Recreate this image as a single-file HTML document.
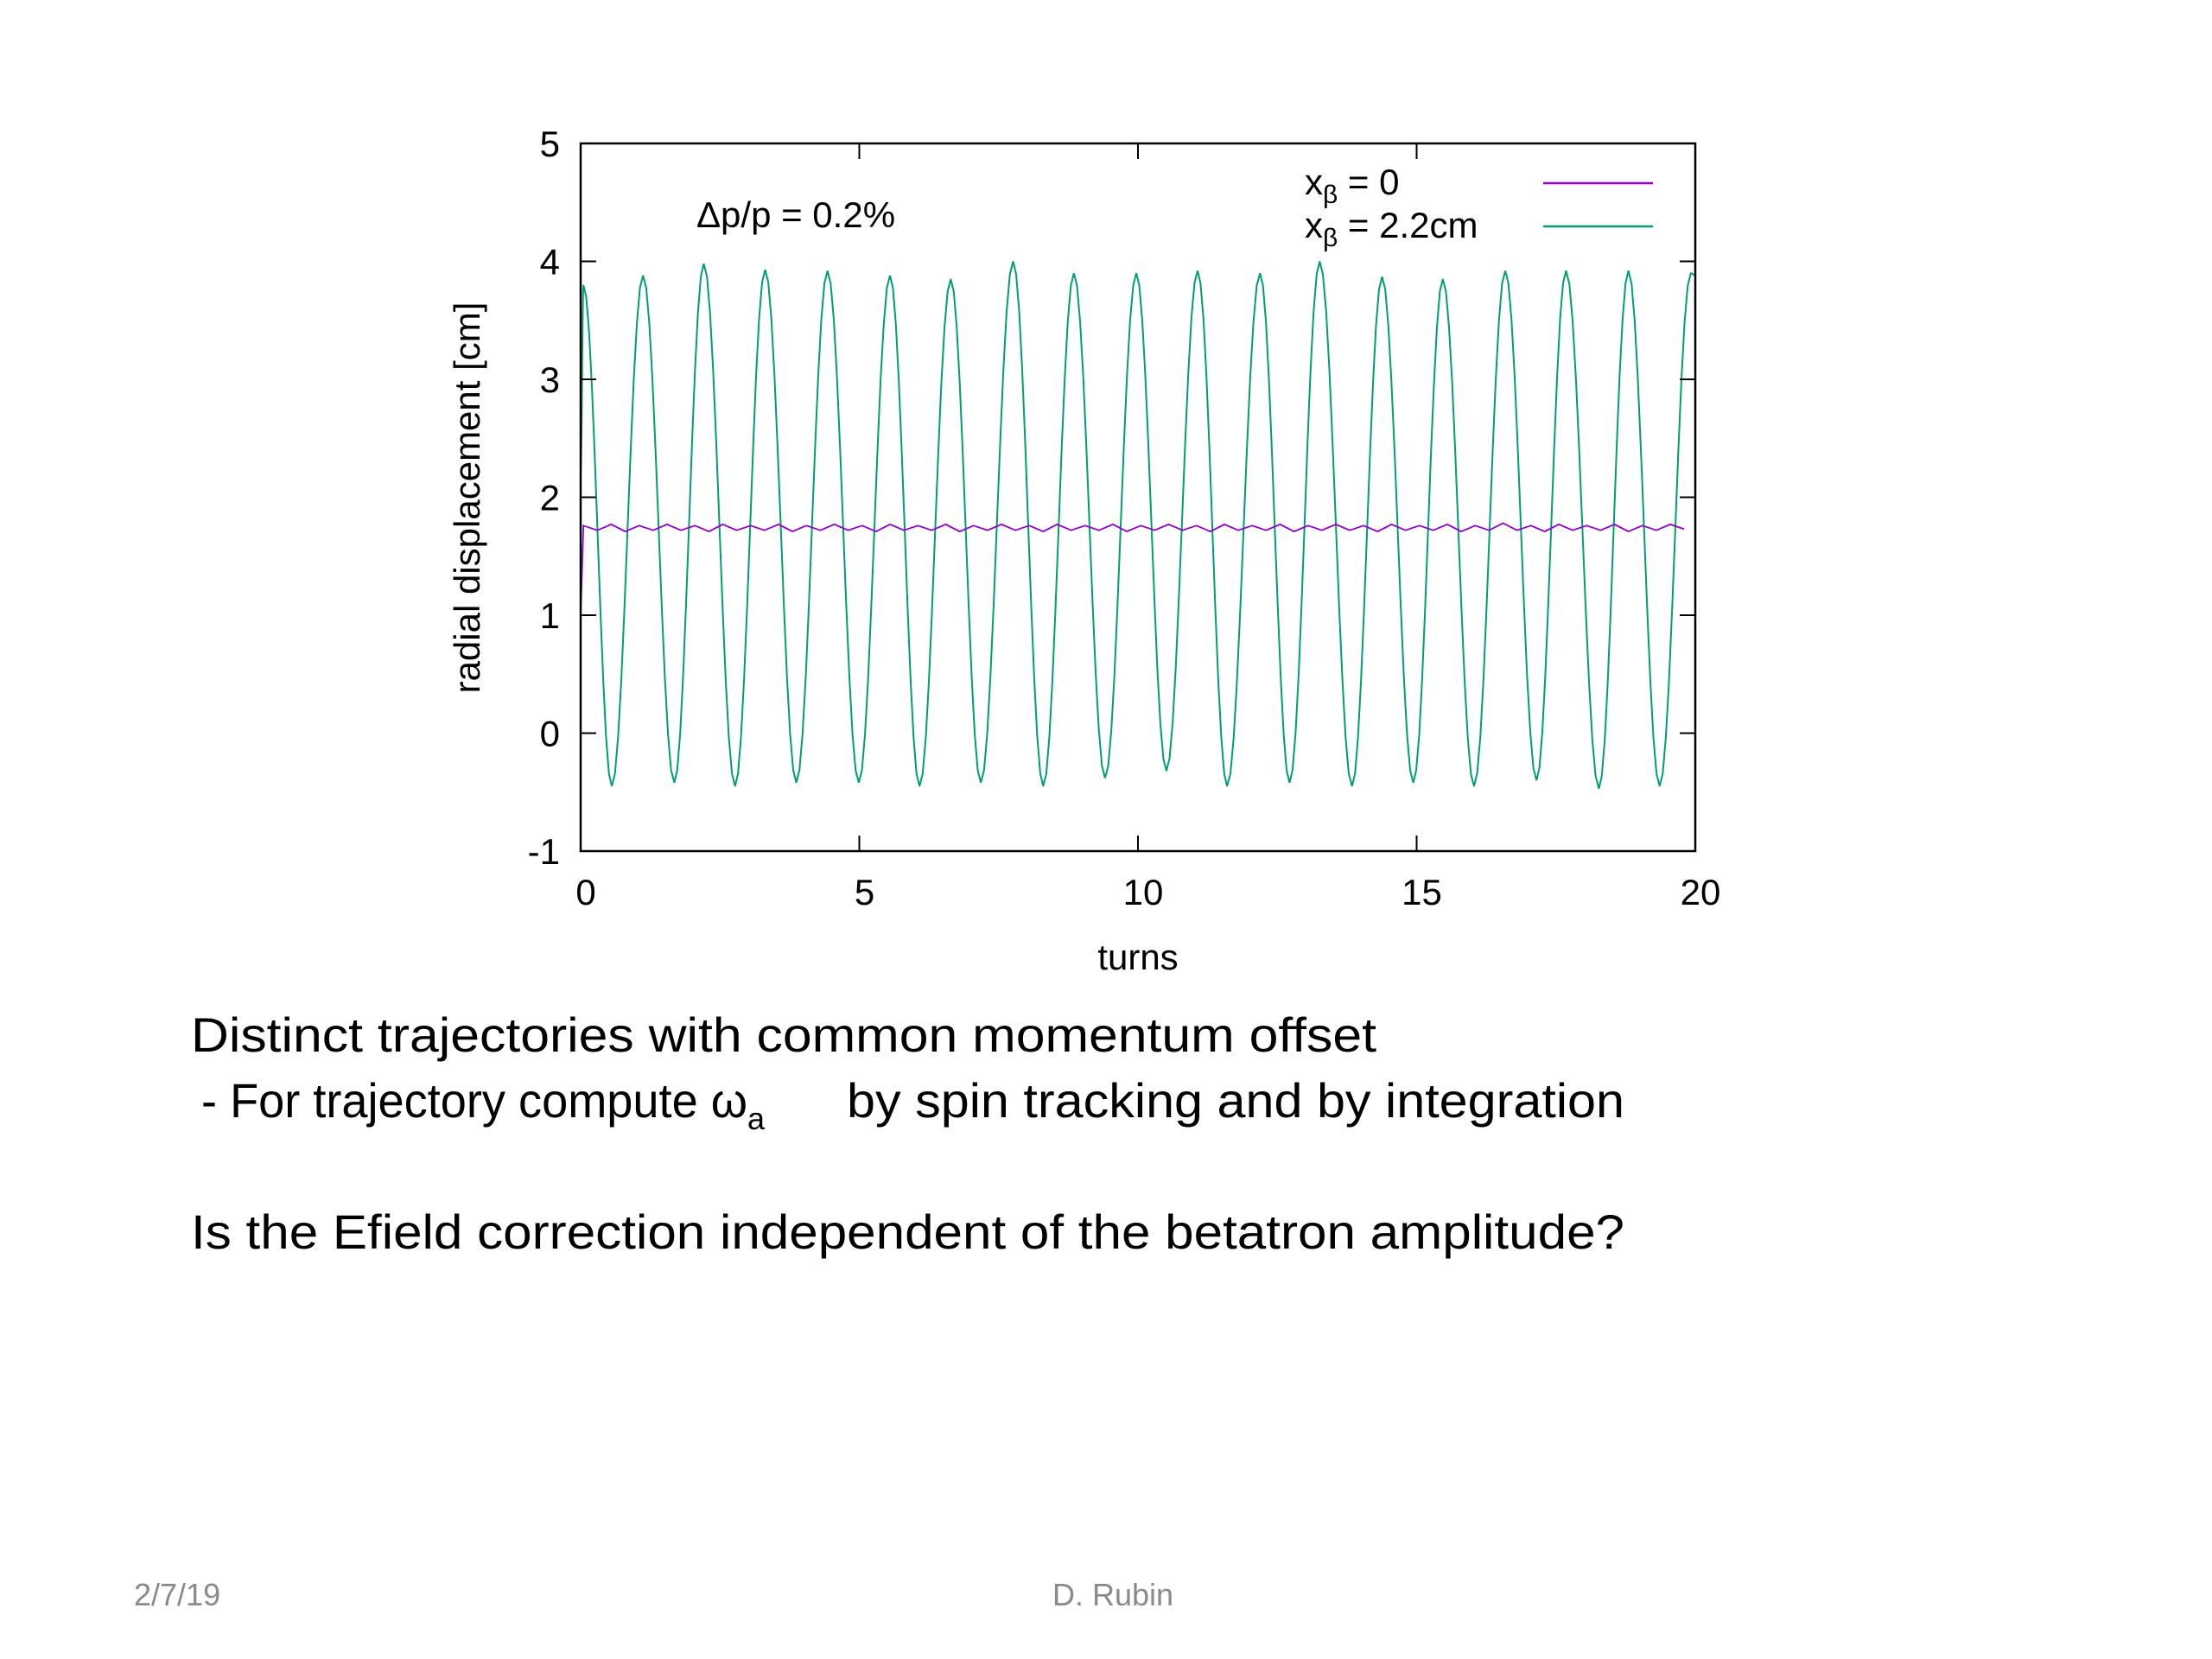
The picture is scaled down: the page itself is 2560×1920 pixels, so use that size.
<!DOCTYPE html>
<html><head><meta charset="utf-8"><style>
html,body{margin:0;padding:0;background:#fff;}
svg{display:block;font-family:"Liberation Sans",sans-serif;}
</style></head><body>
<svg id="chart" width="2560" height="1920" viewBox="0 0 2560 1920" xmlns="http://www.w3.org/2000/svg">
<rect width="2560" height="1920" fill="#fff"/>
<g id="plot"></g>
<text x="806" y="263" font-size="42" fill="#000">Δp/p = 0.2%</text>
<g>
<text x="1510" y="225" font-size="42">x<tspan font-size="30" dy="10">β</tspan><tspan dy="-10"> = 0</tspan></text>
<line x1="1786" y1="212" x2="1913" y2="212" stroke="#9400d3" stroke-width="2.5"/>
<text x="1510" y="275" font-size="42">x<tspan font-size="30" dy="10">β</tspan><tspan dy="-10"> = 2.2cm</tspan></text>
<line x1="1786" y1="262" x2="1913" y2="262" stroke="#009e73" stroke-width="2.5"/>
</g>
<text x="1317" y="1122" font-size="42" text-anchor="middle">turns</text>
<text transform="translate(555,576) rotate(-90)" font-size="42" text-anchor="middle">radial displacement [cm]</text>
<text x="221" y="1217" font-size="56" textLength="1372" lengthAdjust="spacingAndGlyphs">Distinct trajectories with common momentum offset</text>
<text x="233" y="1293" font-size="56"><tspan textLength="632" lengthAdjust="spacingAndGlyphs">- For trajectory compute ω</tspan><tspan font-size="36" dy="14">a</tspan><tspan dy="-14" x="980" textLength="900" lengthAdjust="spacingAndGlyphs">by spin tracking and by integration</tspan></text>
<text x="221" y="1445" font-size="56" textLength="1659" lengthAdjust="spacingAndGlyphs">Is the Efield correction independent of the betatron amplitude?</text>
<text x="155" y="1858" font-size="36" fill="#8a8a8a">2/7/19</text>
<text x="1288" y="1858" font-size="36" fill="#8a8a8a" text-anchor="middle">D. Rubin</text>
</svg>
<script>
const xTicks=[0,5,10,15,20];
const yTicks=[-1,0,1,2,3,4,5];
const greenX=[0,0.05,0.56,1.12,1.68,2.21,2.77,3.31,3.87,4.43,4.99,5.55,6.08,6.64,7.18,7.76,8.30,8.85,9.41,9.97,10.51,11.07,11.60,12.19,12.72,13.26,13.84,14.38,14.94,15.47,16.03,16.59,17.15,17.68,18.27,18.80,19.36,19.92,20];
const greenY=[2.2,3.8,-0.45,3.88,-0.42,3.98,-0.45,3.93,-0.42,3.92,-0.42,3.88,-0.45,3.85,-0.42,4.0,-0.45,3.9,-0.38,3.9,-0.32,3.92,-0.45,3.9,-0.42,4.0,-0.45,3.87,-0.42,3.85,-0.45,3.92,-0.40,3.92,-0.47,3.92,-0.45,3.9,3.88];
const purpleY=[1.0,1.76,1.72,1.77,1.71,1.76,1.72,1.77,1.72,1.76,1.71,1.77,1.72,1.76,1.72,1.77,1.71,1.76,1.72,1.77,1.72,1.76,1.71,1.77,1.72,1.76,1.72,1.77,1.71,1.76,1.72,1.77,1.72,1.76,1.71,1.77,1.72,1.76,1.72,1.77,1.71,1.76,1.72,1.77,1.72,1.76,1.71,1.77,1.72,1.76,1.72,1.77,1.71,1.76,1.72,1.77,1.72,1.76,1.71,1.77,1.72,1.76,1.72,1.77,1.71,1.76,1.72,1.78,1.72,1.76,1.71,1.77,1.72,1.76,1.72,1.77,1.71,1.76,1.72,1.77,1.73];
const purpleStep=0.25;

const L=672,R=1962,T=166,B=985;
const xs=v=>L+(v-0)/20*(R-L);
const ys=v=>B-(v+1)/6*(B-T);
const NS="http://www.w3.org/2000/svg";
const g=document.getElementById('plot');
function mk(tag,attrs){const e=document.createElementNS(NS,tag);for(const k in attrs)e.setAttribute(k,attrs[k]);return e;}

// green curve (cosine easing between extrema)
let d='M'+xs(greenX[0])+','+ys(greenY[0]);
for(let i=1;i<greenX.length;i++){
  const x0=greenX[i-1],x1=greenX[i],y0=greenY[i-1],y1=greenY[i];
  const n=10;
  for(let k=1;k<=n;k++){
    const t=k/n,e=(1-Math.cos(Math.PI*t))/2;
    d+=' L'+xs(x0+(x1-x0)*t).toFixed(1)+','+ys(y0+(y1-y0)*e).toFixed(1);
  }
}
const gp=mk('path',{d:d,fill:'none',stroke:'#009e73','stroke-width':2});


g.appendChild(gp);

// purple curve
let pd='';
for(let i=0;i<purpleY.length;i++){
  const x=i===0?0:0.05+(i-1)*purpleStep;
  pd+=(i?' L':'M')+xs(Math.min(x,20)).toFixed(1)+','+ys(purpleY[i]).toFixed(1);
}
const pp=mk('path',{d:pd,fill:'none',stroke:'#9400d3','stroke-width':1.8});


g.appendChild(pp);

// frame
const fr=mk('rect',{x:L,y:T,width:R-L,height:B-T,fill:'none',stroke:'#000','stroke-width':2.5});


g.appendChild(fr);

xTicks.forEach(v=>{
  const x=xs(v);
  const t1=mk('line',{x1:x,y1:B,x2:x,y2:B-18,stroke:'#000','stroke-width':2});
  
  
  g.appendChild(t1);
  const t2=mk('line',{x1:x,y1:T,x2:x,y2:T+18,stroke:'#000','stroke-width':2});
  
  
  g.appendChild(t2);
  const lb=mk('text',{x:x+6,y:1047,'font-size':42,'text-anchor':'middle'});
  lb.textContent=v;
  
  
  g.appendChild(lb);
});
yTicks.forEach(v=>{
  const y=ys(v);
  const t1=mk('line',{x1:L,y1:y,x2:L+18,y2:y,stroke:'#000','stroke-width':2});
  
  
  g.appendChild(t1);
  const t2=mk('line',{x1:R,y1:y,x2:R-18,y2:y,stroke:'#000','stroke-width':2});
  
  
  g.appendChild(t2);
  const lb=mk('text',{x:648,y:y+15,'font-size':42,'text-anchor':'end'});
  lb.textContent=v;
  
  
  g.appendChild(lb);
});
</script>
</body></html>
